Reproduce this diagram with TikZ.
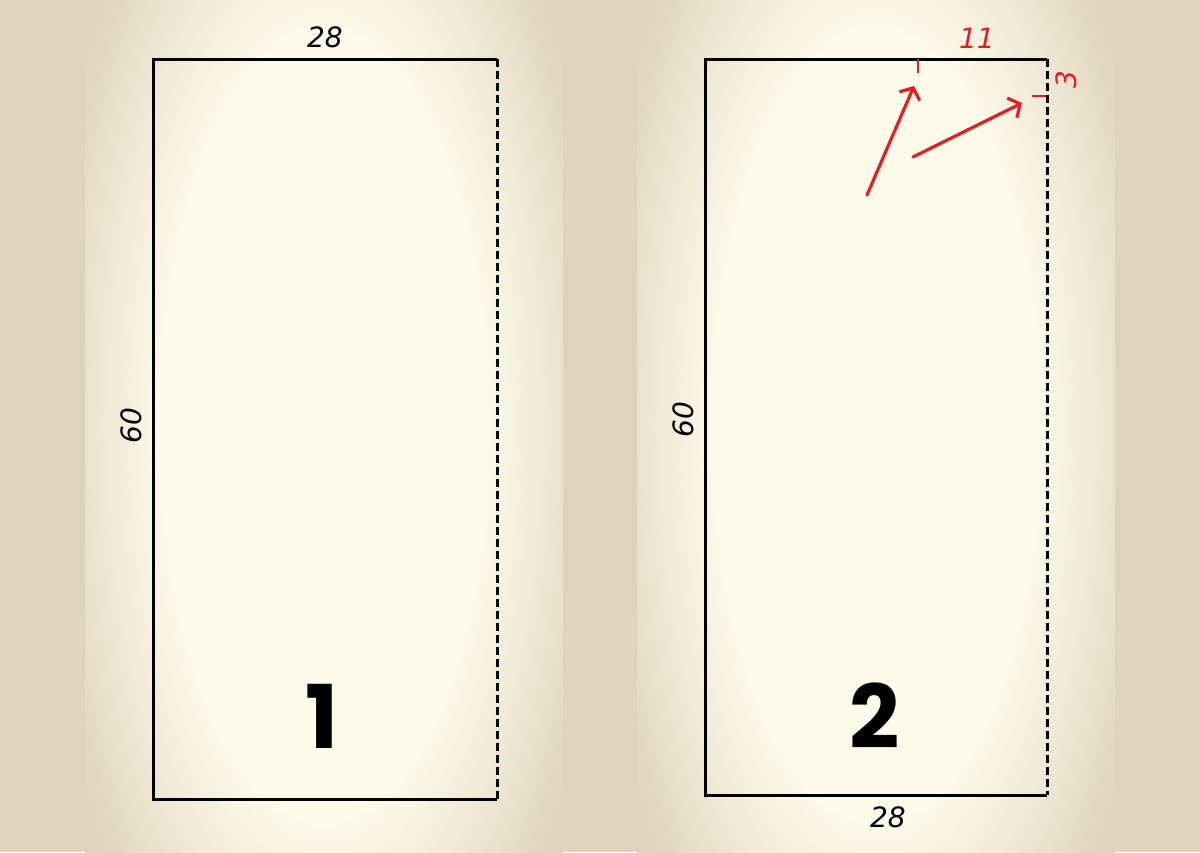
\documentclass[tikz,border=0pt]{standalone}
\usepackage{fontspec}
\newfontfamily\bignum{Poppins}
\newfontfamily\handfont{DejaVu Sans}
\usetikzlibrary{positioning, arrows.meta}

\definecolor{paper}{RGB}{223,212,189}
\definecolor{cream}{RGB}{252,250,233}
\definecolor{pen}{RGB}{230,30,36}
\pgfdeclareradialshading{vignette}{\pgfpoint{0bp}{0bp}}{color(0bp)=(cream); color(17bp)=(cream); color(30bp)=(paper); color(100bp)=(paper)}

\tikzset{
	hand/.style={font=\handfont\itshape\fontsize{28}{28}\selectfont, inner sep=0pt},
	edge/.style={line width=3pt},
	fold/.style={line width=3pt, dash pattern=on 8pt off 4pt},
	sheetnum/.style={font=\bignum\bfseries\fontsize{88}{88}\selectfont, inner sep=0pt},
	redline/.style={pen, line width=2pt},
	redarrow/.style={pen, line width=3.2pt, line cap=round, -{Straight Barb[length=9pt, width=22pt]}},
}

\begin{document}
\begin{tikzpicture}[x=1pt, y=-1pt]

	\useasboundingbox (0,0) rectangle (1200,852);
	\fill[paper] (0,0) rectangle (1200,852);
	\begin{scope}
		\clip (85,0) rectangle (563,852);
		\shade[shading=vignette] (85,-150) rectangle (563,1002);
	\end{scope}
	\begin{scope}
		\clip (637,0) rectangle (1115,852);
		\shade[shading=vignette] (637,-150) rectangle (1115,1002);
	\end{scope}

	\coordinate (a1) at (153,59);
	\coordinate (a2) at (497,59);
	\coordinate (a3) at (497,799);
	\coordinate (a4) at (153,799);

	\draw[edge] (a2) -- (a1) -- (a4) -- (a3);
	\draw[fold] (a2) -- (a3);

	\path (a1) -- node[hand, above=11pt] (w1) {28} (a2);
	\path (a4) -- node[hand, sloped, above=11pt, pos=0.505] (h1) {60} (a1);
	\node[sheetnum] (n1) at (322,716) {1};

	%%% Second sheet %%%

	\coordinate (b1) at (705,59);
	\coordinate (b2) at (1047,59);
	\coordinate (b3) at (1047,795);
	\coordinate (b4) at (705,795);

	\draw[edge] (b2) -- (b1) -- (b4) -- (b3);
	\draw[fold] (b2) -- (b3);

	\path (b4) -- node[hand, below=12pt, pos=0.535] (w2) {28} (b3);
	\path (b4) -- node[hand, sloped, above=11pt, pos=0.51] (h2) {60} (b1);
	\node[sheetnum] (n2) at (875,716) {2};

	\path (b1) -- node[hand, pen, above=10pt, pos=0.795] (w3) {11} (b2);
	\node[hand, pen, rotate=90] (w4) at (1066,80) {3};

	\coordinate (t1) at (918,59);
	\coordinate (t2) at (918,73);
	\coordinate (s1) at (1032,96);
	\coordinate (s2) at (1046,96);
	\draw[redline] (t1) -- (t2);
	\draw[redline] (s1) -- (s2);

	\coordinate (p1) at (867,195);
	\coordinate (q1) at (914,86);
	\coordinate (p2) at (913,157);
	\coordinate (q2) at (1022,103);
	\draw[redarrow] (p1) -- (q1);
	\draw[redarrow] (p2) -- (q2);

\end{tikzpicture}
\end{document}
